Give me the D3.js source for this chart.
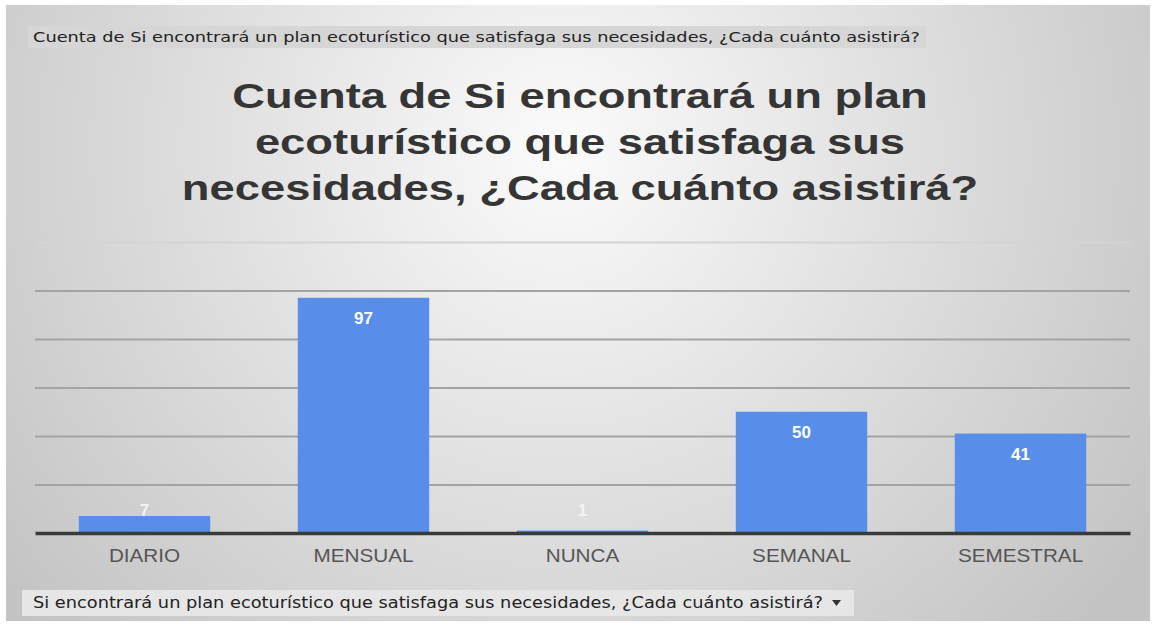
<!DOCTYPE html>
<html>
<head>
<meta charset="utf-8">
<script src="https://cdn.jsdelivr.net/npm/d3@7"></script>
<style>
  html, body { margin: 0; padding: 0; background: #fff; }
  svg { display: block; }
</style>
</head>
<body>
<div id="page"></div>
<script>
(function() {

  "use strict";

  var categories = [ "DIARIO", "MENSUAL", "NUNCA", "SEMANAL", "SEMESTRAL" ];
  var counts = [ 7, 97, 1, 50, 41 ];
  var gridTicks = [ 20, 40, 60, 80, 100, 120 ];

  var topLabel = "Cuenta de Si encontrará un plan ecoturístico que satisfaga sus necesidades, ¿Cada cuánto asistirá?";
  var titleLines = [
    "Cuenta de Si encontrará un plan",
    "ecoturístico que satisfaga sus",
    "necesidades, ¿Cada cuánto asistirá?"
  ];
  var bottomLabel = "Si encontrará un plan ecoturístico que satisfaga sus necesidades, ¿Cada cuánto asistirá?";

  /* * * * * * * * * * * * * * * * * * * */

  var W = 1154, H = 627;

  var svg = d3.select( "#page" ).append( "svg" )
    .attr( "width", W )
    .attr( "height", H );

  var defs = svg.append( "defs" );

  var bg = defs.append( "radialGradient" )
    .attr( "id", "bg" )
    .attr( "gradientUnits", "userSpaceOnUse" )
    .attr( "cx", 560 )
    .attr( "cy", 150 )
    .attr( "r", 700 );

  bg.append( "stop" ).attr( "offset", "0%" ).attr( "stop-color", "#fbfbfb" );
  bg.append( "stop" ).attr( "offset", "45%" ).attr( "stop-color", "#e2e2e2" );
  bg.append( "stop" ).attr( "offset", "100%" ).attr( "stop-color", "#c4c4c4" );

  svg.append( "rect" )
    .attr( "x", 6 )
    .attr( "y", 5 )
    .attr( "width", 1144 )
    .attr( "height", 616 )
    .style( "fill", "url(#bg)" );

  /* * * * * * * * * * * * * * * * * * * */

  // chip on top
  svg.append( "rect" )
    .attr( "x", 28 ).attr( "y", 26 )
    .attr( "width", 898 ).attr( "height", 22 )
    .style( "fill", "#d6d6d6" );

  svg.append( "text" )
    .attr( "x", 33 ).attr( "y", 42 )
    .attr( "textLength", 887 )
    .attr( "lengthAdjust", "spacingAndGlyphs" )
    .style( "font-family", "'DejaVu Sans', sans-serif" )
    .style( "font-size", "14px" )
    .style( "fill", "#222" )
    .text( topLabel );

  // title, the original is stretched sideways
  svg.append( "g" )
    .attr( "transform", "translate(580,0) scale(1.26,1)" )
    .selectAll( "text" )
    .data( titleLines )
    .join( "text" )
    .attr( "x", 0 )
    .attr( "y", function( d, i ) { return 108 + i * 46; } )
    .attr( "text-anchor", "middle" )
    .style( "font-family", "'Liberation Sans', Arial, sans-serif" )
    .style( "font-weight", "bold" )
    .style( "font-size", "36px" )
    .style( "fill", "#353535" )
    .text( function( d ) { return d; } );

  /* * * * * * * * * * * * * * * * * * * */

  var left = 35, right = 1130, base = 533, top = 242;

  var x = d3.scaleBand()
    .domain( categories )
    .range( [ left, right ] )
    .paddingInner( 0.4 )
    .paddingOuter( 0.2 );

  var y = d3.scaleLinear()
    .domain( [ 0, 120 ] )
    .range( [ base, top ] );

  var grid = svg.append( "g" )
    .attr( "transform", "translate(" + left + ",0)" )
    .call( d3.axisLeft( y ).tickValues( gridTicks ).tickSize( -( right - left ) ).tickFormat( "" ) );

  grid.select( ".domain" ).remove();
  grid.selectAll( ".tick line" )
    .style( "stroke", function( d ) { return d === 120 ? "#d4d4d4" : "#a3a3a3"; } )
    .style( "stroke-width", 2 );

  svg.append( "g" )
    .selectAll( "rect" )
    .data( counts )
    .join( "rect" )
    .attr( "x", function( d, i ) { return x( categories[i] ); } )
    .attr( "y", function( d ) { return y( d ); } )
    .attr( "width", x.bandwidth() )
    .attr( "height", function( d ) { return base - y( d ); } )
    .style( "fill", "#588de9" );

  var xAxis = svg.append( "g" )
    .attr( "transform", "translate(0," + base + ")" )
    .call( d3.axisBottom( x ).tickSize( 0 ).tickPadding( 16 ) );

  xAxis.select( ".domain" )
    .style( "stroke", "#3a3a3a" )
    .style( "stroke-width", 3.5 );

  xAxis.selectAll( "text" )
    .attr( "transform", "scale(1.15,1)" )
    .style( "font-family", "'Liberation Sans', Arial, sans-serif" )
    .style( "font-size", "18px" )
    .style( "fill", "#555" );

  svg.append( "g" )
    .selectAll( "text" )
    .data( counts )
    .join( "text" )
    .attr( "x", function( d, i ) { return x( categories[i] ) + x.bandwidth() / 2; } )
    .attr( "y", function( d ) { return Math.min( y( d ) + 20, base - 23 ); } )
    .attr( "dy", "0.35em" )
    .attr( "text-anchor", "middle" )
    .style( "font-family", "'Liberation Sans', Arial, sans-serif" )
    .style( "font-weight", "bold" )
    .style( "font-size", "17px" )
    .style( "fill", function( d ) { return y( d ) + 20 > base - 23 ? "#f4f4f4" : "#ffffff"; } )
    .text( function( d ) { return d; } );

  /* * * * * * * * * * * * * * * * * * * */

  // chip at bottom
  svg.append( "rect" )
    .attr( "x", 22 ).attr( "y", 590 )
    .attr( "width", 832 ).attr( "height", 26 )
    .style( "fill", "#e6e6e6" );

  svg.append( "text" )
    .attr( "x", 33 ).attr( "y", 608 )
    .attr( "textLength", 790 )
    .attr( "lengthAdjust", "spacingAndGlyphs" )
    .style( "font-family", "'DejaVu Sans', sans-serif" )
    .style( "font-size", "15px" )
    .style( "fill", "#222" )
    .text( bottomLabel );

  svg.append( "path" )
    .attr( "d", "M832,600 l9,0 l-4.5,6 z" )
    .style( "fill", "#333" );

})();
</script>
</body>
</html>
